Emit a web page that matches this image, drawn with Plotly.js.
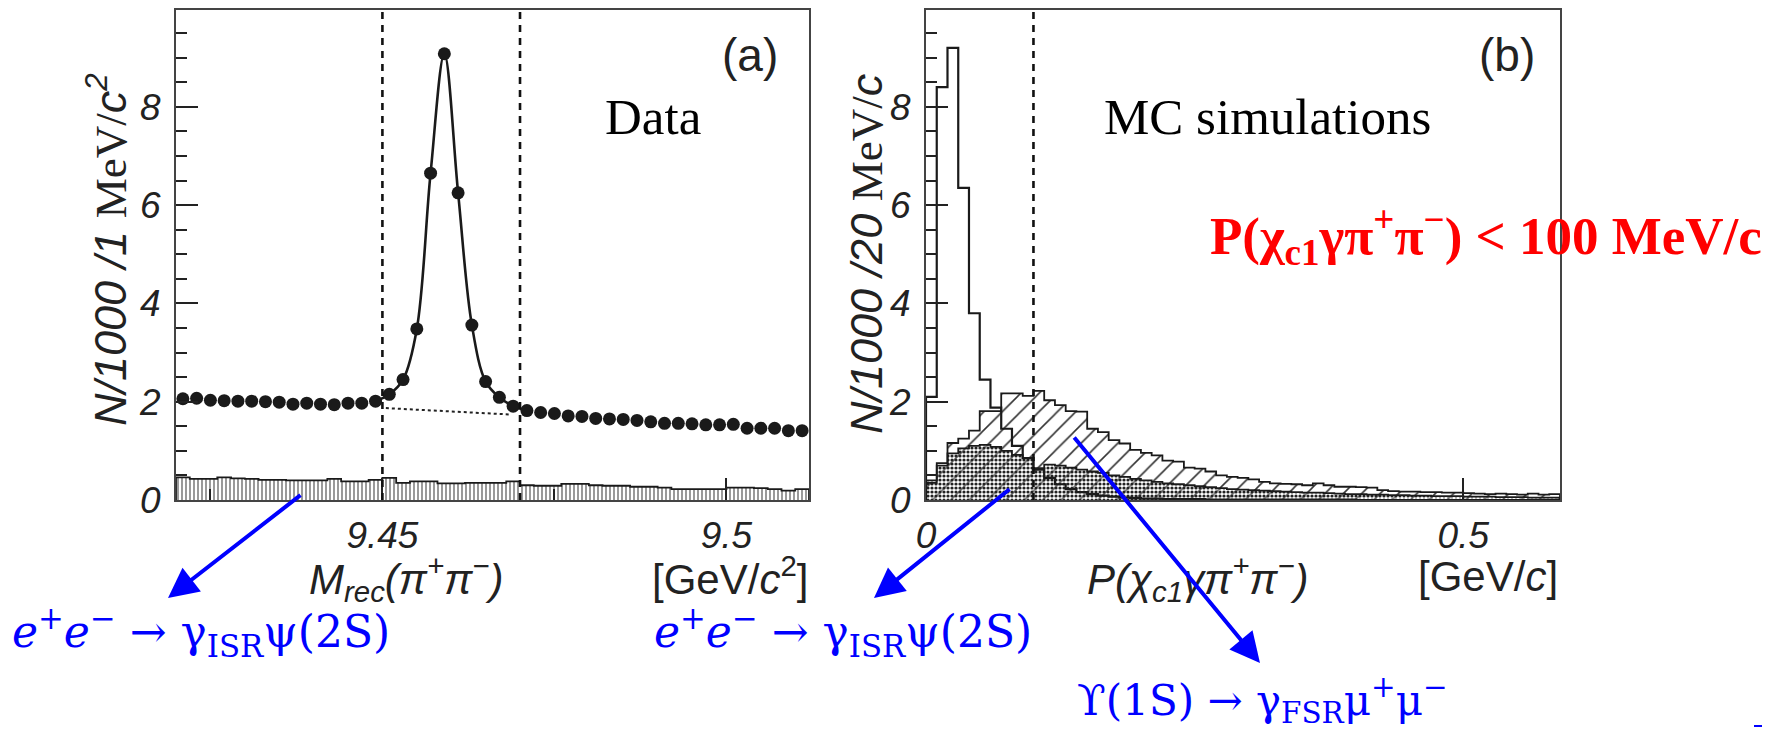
<!DOCTYPE html>
<html><head><meta charset="utf-8">
<script src="https://cdn.plot.ly/plotly-3.0.1.min.js"></script>
<style>html,body{margin:0;padding:0;background:#fff}</style>
</head><body><div id="chart" style="width:1779px;height:729px"></div>
<script>
// ---------- Panel (a): data, M_rec(pi+pi-) ----------
const massA = [9.421,9.423,9.425,9.427,9.429,9.431,9.433,9.435,9.437,9.439,
  9.441,9.443,9.445,9.447,9.449,9.451,9.453,9.455,9.457,9.459,
  9.461,9.463,9.465,9.467,9.469,9.471,9.473,9.475,9.477,9.479,
  9.481,9.483,9.485,9.487,9.489,9.491,9.493,9.495,9.497,9.499,
  9.501,9.503,9.505,9.507,9.509,9.511];
const countsA = [2.06,2.07,2.03,2.02,2.01,2.01,2.00,1.99,1.95,1.97,
  1.95,1.94,1.97,1.97,2.01,2.15,2.45,3.48,6.65,9.08,
  6.25,3.56,2.41,2.09,1.91,1.82,1.78,1.76,1.71,1.70,
  1.66,1.65,1.64,1.62,1.59,1.56,1.56,1.55,1.53,1.53,
  1.54,1.46,1.46,1.46,1.41,1.41];
const isrA = [0.46,0.43,0.43,0.46,0.44,0.43,0.41,0.41,0.40,0.40,
  0.40,0.43,0.38,0.38,0.41,0.45,0.35,0.38,0.38,0.34,
  0.34,0.35,0.35,0.35,0.38,0.30,0.29,0.29,0.33,0.33,
  0.30,0.29,0.29,0.27,0.27,0.25,0.22,0.22,0.22,0.22,
  0.25,0.25,0.24,0.22,0.19,0.22];
const fitFirst = 9.449, fitLast = 9.471;
const bgX = [9.4505, 9.4685];
const bgY = [1.87, 1.74];
const cutsA = [9.45, 9.47];
const binWA = 0.002;

// ---------- Panel (b): MC, P(chi_c1 gamma pi+pi-) ----------
const momB = [0.005,0.015,0.025,0.035,0.045,0.055,0.065,0.075,0.085,0.095,
  0.105,0.115,0.125,0.135,0.145,0.155,0.165,0.175,0.185,0.195,
  0.205,0.215,0.225,0.235,0.245,0.255,0.265,0.275,0.285,0.295,
  0.305,0.315,0.325,0.335,0.345,0.355,0.365,0.375,0.385,0.395,
  0.405,0.415,0.425,0.435,0.445,0.455,0.465,0.475,0.485,0.495,
  0.505,0.515,0.525,0.535,0.545,0.555,0.565,0.575,0.585];
const sigB = [2.1,8.4,9.2,6.35,3.8,2.45,1.88,1.45,1.1,0.85,
  0.62,0.45,0.32,0.22,0.16,0.12,0.09,0.07,0.05,0.04,
  0.03,0.03,0.02,0.02,0.02,0.02,0.01,0.01,0.01,0.01,
  0.01,0.01,0.01,0.01,0.01,0.01,0.01,0.01,0.01,0.01,
  0,0,0,0,0,0,0,0,0,0,
  0,0,0,0,0,0,0,0,0];
const fsrB = [0.35,0.75,1.16,1.25,1.41,1.81,1.81,2.17,2.17,2.12,
  2.22,2.03,1.93,1.81,1.80,1.45,1.38,1.22,1.15,1.02,
  0.96,0.91,0.80,0.78,0.66,0.64,0.58,0.50,0.47,0.45,
  0.42,0.37,0.34,0.33,0.32,0.30,0.34,0.30,0.27,0.27,
  0.26,0.25,0.20,0.18,0.17,0.17,0.16,0.16,0.15,0.15,
  0.14,0.13,0.12,0.13,0.12,0.11,0.13,0.11,0.12];
const isrB = [0.40,0.70,0.95,1.05,1.10,1.12,1.08,1.00,0.92,0.85,
  0.65,0.72,0.70,0.66,0.62,0.58,0.55,0.50,0.47,0.43,
  0.40,0.37,0.34,0.32,0.30,0.28,0.26,0.24,0.22,0.21,
  0.20,0.19,0.18,0.17,0.16,0.15,0.15,0.14,0.13,0.12,
  0.12,0.11,0.11,0.10,0.10,0.09,0.09,0.08,0.08,0.08,
  0.07,0.07,0.07,0.06,0.06,0.06,0.05,0.05,0.05];
const cutsB = [0.1];
const binWB = 0.01;

// ---------- helpers ----------
const W = 1779, H = 729;
const px = v => v / W;
const py = v => 1 - v / H;
function stepXY(centers, vals, w) {
  const xs = [centers[0] - w / 2], ys = [0];
  for (let i = 0; i < centers.length; i++) { xs.push(centers[i] - w / 2); ys.push(vals[i]); }
  const e = centers[centers.length - 1] + w / 2;
  xs.push(e); ys.push(vals[vals.length - 1]);
  xs.push(e); ys.push(0);
  return {xs, ys};
}
function stepTrace(centers, vals, w, xa, ya, width) {
  const s = stepXY(centers, vals, w);
  return {type: 'scatter', mode: 'lines', x: s.xs, y: s.ys, xaxis: xa, yaxis: ya,
    line: {shape: 'hv', color: '#1a1a1a', width: width || 1.6}, hoverinfo: 'skip', showlegend: false};
}

const fitX = [], fitY = [];
massA.forEach((m, i) => { if (m >= fitFirst - 1e-9 && m <= fitLast + 1e-9) { fitX.push(m); fitY.push(countsA[i]); } });

const traces = [
  // panel a: ISR background histogram
  {type: 'bar', x: massA, y: isrA, width: binWA, xaxis: 'x', yaxis: 'y',
    marker: {color: 'white', line: {width: 0},
      pattern: {shape: '|', fgcolor: '#808080', bgcolor: 'white', size: 4, solidity: 0.4}},
    hoverinfo: 'skip', showlegend: false},
  stepTrace(massA, isrA, binWA, 'x', 'y', 1.8),
  // background (dotted)
  {type: 'scatter', mode: 'lines', x: bgX, y: bgY, xaxis: 'x', yaxis: 'y',
    line: {color: '#222', width: 2, dash: 'dot'}, hoverinfo: 'skip', showlegend: false},
  // fit curve
  {type: 'scatter', mode: 'lines', x: fitX, y: fitY, xaxis: 'x', yaxis: 'y',
    line: {color: '#1a1a1a', width: 2.6, shape: 'spline', smoothing: 1.0}, hoverinfo: 'skip', showlegend: false},
  // data points
  {type: 'scatter', mode: 'markers', x: massA, y: countsA, xaxis: 'x', yaxis: 'y',
    marker: {color: '#1a1a1a', size: 13}, hoverinfo: 'skip', showlegend: false},

  // panel b: FSR (diagonal hatch)
  {type: 'bar', x: momB, y: fsrB, width: binWB, xaxis: 'x2', yaxis: 'y2',
    marker: {color: 'white', line: {width: 0},
      pattern: {shape: '/', fgcolor: '#333', bgcolor: 'white', size: 13, solidity: 0.12}},
    hoverinfo: 'skip', showlegend: false},
  // ISR psi(2S) (dotted pattern)
  {type: 'bar', x: momB, y: isrB, width: binWB, xaxis: 'x2', yaxis: 'y2',
    marker: {color: 'rgba(0,0,0,0)', line: {width: 0},
      pattern: {shape: '.', fgcolor: '#222', bgcolor: 'rgba(255,255,255,0.3)', size: 4, solidity: 0.5}},
    hoverinfo: 'skip', showlegend: false},
  stepTrace(momB, fsrB, binWB, 'x2', 'y2', 1.8),
  stepTrace(momB, isrB, binWB, 'x2', 'y2', 1.8),
  stepTrace(momB, sigB, binWB, 'x2', 'y2', 2.2)
];

const tickFont = {family: 'Liberation Sans, Arial, sans-serif', size: 37, style: 'italic', color: '#222'};
const frame = {showline: true, mirror: true, linecolor: '#444', linewidth: 2, showgrid: false, zeroline: false,
  ticks: 'inside', tickcolor: '#222', tickwidth: 2, ticklen: 22, tickfont: tickFont, fixedrange: true};
const yCommon = Object.assign({}, frame, {range: [0, 9.97], tickmode: 'array', tickvals: [0, 2, 4, 6, 8],
  ticktext: ['0', '2', '4', '6', '8'], ticklabelstandoff: 6,
  minor: {ticks: 'inside', ticklen: 11, tickwidth: 2, tickcolor: '#222', tickmode: 'linear', tick0: 0, dtick: 0.5}});

const yDom = [py(500), py(10)];
const layout = {
  width: W, height: H, margin: {l: 0, r: 0, t: 0, b: 0, pad: 0},
  paper_bgcolor: 'white', plot_bgcolor: 'white', barmode: 'overlay', bargap: 0, showlegend: false,
  xaxis: Object.assign({}, frame, {domain: [px(176), px(809)], range: [9.42, 9.512], anchor: 'y',
    tickmode: 'array', tickvals: [9.45, 9.5], ticktext: ['9.45', '9.5'], ticklabelstandoff: 2,
    minor: {ticks: 'inside', ticklen: 11, tickwidth: 2, tickcolor: '#222', tickmode: 'linear', tick0: 9.425, dtick: 0.05}}),
  yaxis: Object.assign({}, yCommon, {domain: yDom, anchor: 'x'}),
  xaxis2: Object.assign({}, frame, {domain: [px(926), px(1560)], range: [0, 0.59], anchor: 'y2',
    tickmode: 'array', tickvals: [0, 0.5], ticktext: ['0', '0.5'], ticklabelstandoff: 2}),
  yaxis2: Object.assign({}, yCommon, {domain: yDom, anchor: 'x2'}),
  shapes: [],
  annotations: []
};

cutsA.forEach(c => layout.shapes.push({type: 'line', xref: 'x', yref: 'y domain', x0: c, x1: c, y0: 0, y1: 1,
  line: {color: '#111', width: 2.6, dash: '7px,6px'}}));
cutsB.forEach(c => layout.shapes.push({type: 'line', xref: 'x2', yref: 'y2 domain', x0: c, x1: c, y0: 0, y1: 1,
  line: {color: '#111', width: 2.6, dash: '7px,6px'}}));
layout.shapes.push({type: 'line', xref: 'paper', yref: 'paper', x0: px(1754), x1: px(1762), y0: py(726), y1: py(726),
  line: {color: '#0000ff', width: 2}});

const sans = 'Liberation Sans, Arial, sans-serif';
const serif = 'Liberation Serif, Times New Roman, serif';
function txt(text, x, y, xanchor, font, extra) {
  layout.annotations.push(Object.assign({xref: 'paper', yref: 'paper', x: px(x), y: py(y), xanchor: xanchor,
    yanchor: 'middle', text: text, showarrow: false, font: font}, extra || {}));
}
// panel labels
txt('(a)', 750, 55, 'center', {family: sans, size: 46, color: '#222'});
txt('(b)', 1507, 55, 'center', {family: sans, size: 46, color: '#222'});
txt('Data', 603, 117, 'left', {family: serif, size: 51, color: '#000'});
txt('MC simulations', 1102, 117, 'left', {family: serif, size: 51, color: '#000'});
txt('P(χ<sub>c1</sub>γπ<sup>+</sup>π<sup>−</sup>) &lt; 100 MeV/c', 1208, 236, 'left',
  {family: serif, size: 53, color: '#ff0000', weight: 'bold'});
// axis titles
txt('N/1000 /1 <span style="font-family:Liberation Serif;font-style:normal">MeV/</span><i>c</i><sup>2</sup>', 107, 250, 'center',
  {family: sans, size: 45, style: 'italic', color: '#222'}, {textangle: -90});
txt('N/1000 /20 <span style="font-family:Liberation Serif;font-style:normal">MeV/</span><i>c</i>', 866, 254, 'center',
  {family: sans, size: 45, style: 'italic', color: '#222'}, {textangle: -90});
txt('M<sub>rec</sub>(π<sup>+</sup>π<sup>−</sup>)', 406, 578, 'center', {family: sans, size: 42, style: 'italic', color: '#222'});
txt('[GeV/<i>c</i><sup>2</sup>]', 810, 576, 'right', {family: sans, size: 42, color: '#222'});
txt('P(χ<sub>c1</sub>γπ<sup>+</sup>π<sup>−</sup>)', 1198, 578, 'center', {family: sans, size: 42, style: 'italic', color: '#222'});
txt('[GeV/<i>c</i>]', 1560, 576, 'right', {family: sans, size: 42, color: '#222'});
// blue process labels
const blue = {family: 'DejaVu Serif, serif', size: 44, color: '#0000ff'};
txt('<i>e</i><sup>+</sup><i>e</i><sup>−</sup> → γ<sub>ISR</sub>ψ(2S)', 10, 632, 'left', blue);
txt('<i>e</i><sup>+</sup><i>e</i><sup>−</sup> → γ<sub>ISR</sub>ψ(2S)', 652, 632, 'left', blue);
txt('ϒ(1S) → γ<sub>FSR</sub>μ<sup>+</sup>μ<sup>−</sup>', 1075, 700, 'left', {family: 'DejaVu Serif, serif', size: 42, color: '#0000ff'});
// arrows
function arrow(hx, hy, tx, ty) {
  layout.annotations.push({xref: 'paper', yref: 'paper', x: px(hx), y: py(hy), ax: tx - hx, ay: ty - hy,
    axref: 'pixel', ayref: 'pixel', text: '', showarrow: true, arrowhead: 2, arrowsize: 1.5,
    arrowwidth: 4, arrowcolor: '#0000ff', standoff: 0, startstandoff: 0});
}
arrow(168, 598, 302, 494);
arrow(874, 598, 1011, 488);
arrow(1260, 663, 1073, 436);

Plotly.newPlot('chart', traces, layout, {staticPlot: true, displayModeBar: false});
</script>
</body></html>
